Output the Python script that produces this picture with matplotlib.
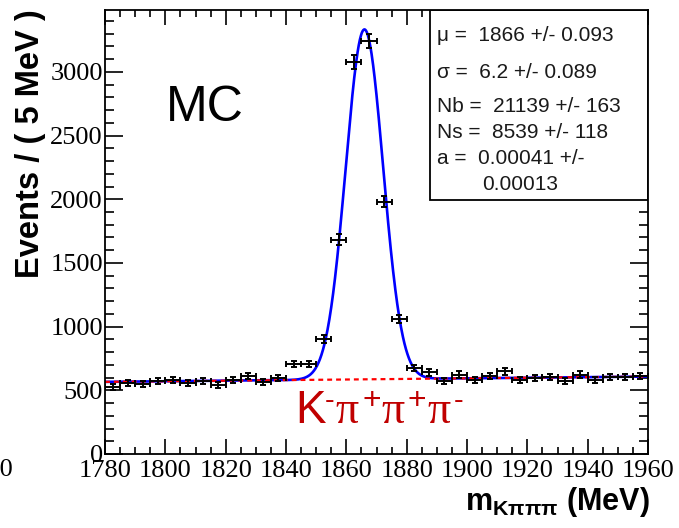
import numpy as np
import matplotlib
matplotlib.use('Agg')
import matplotlib.pyplot as plt
from matplotlib.ticker import MultipleLocator
from matplotlib.patches import Rectangle

plt.rcParams['mathtext.fontset'] = 'custom'
plt.rcParams['mathtext.rm'] = 'Liberation Sans'
plt.rcParams['mathtext.it'] = 'Liberation Sans:italic'
plt.rcParams['mathtext.bf'] = 'Liberation Sans:bold'

# ---- data (5 MeV bins) ----
bin_centers = [1782.5, 1787.5, 1792.5, 1797.5, 1802.5, 1807.5, 1812.5, 1817.5, 1822.5,
               1827.5, 1832.5, 1837.5, 1842.5, 1847.5, 1852.5, 1857.5, 1862.5, 1867.5,
               1872.5, 1877.5, 1882.5, 1887.5, 1892.5, 1897.5, 1902.5, 1907.5, 1912.5,
               1917.5, 1922.5, 1927.5, 1932.5, 1937.5, 1942.5, 1947.5, 1952.5, 1957.5]
counts = [525, 560, 552, 576, 578, 558, 576, 544, 578,
          615, 562, 599, 707, 707, 903, 1683, 3076, 3241,
          1982, 1060, 676, 641, 570, 623, 584, 615, 649,
          584, 597, 602, 570, 623, 584, 605, 605, 615]
bin_width = 5.0

# ---- fit parameters ----
mu = 1866.0
sigma = 6.2
n_bkg = 21139.0
n_sig = 8539.0
slope_a = 0.00041
x_min, x_max = 1780.0, 1960.0

stats_lines = ["\u03bc =  1866 +/- 0.093",
               "\u03c3 =  6.2 +/- 0.089",
               "Nb =  21139 +/- 163",
               "Ns =  8539 +/- 118",
               "a =  0.00041 +/-",
               "0.00013"]

W, H = 679, 528
fig = plt.figure(figsize=(W / 100, H / 100), dpi=100)
ax = fig.add_axes([105 / W, 1 - 454 / H, 543 / W, 444.5 / H])

xs = np.linspace(x_min, x_max, 1441)
norm_b = (x_max - x_min) + slope_a * (x_max - x_min) ** 2 / 2
bkg = n_bkg * bin_width * (1 + slope_a * (xs - x_min)) / norm_b
sig = n_sig * bin_width * np.exp(-0.5 * ((xs - mu) / sigma) ** 2) / (np.sqrt(2 * np.pi) * sigma)

ax.plot(xs, bkg + sig, color='#0000ff', lw=1.9, zorder=2, solid_capstyle='butt')
ax.plot(xs, bkg, color='#ff0000', lw=1.6, ls=(0, (2.2, 1.8)), zorder=2.1)

yerr = np.sqrt(np.array(counts, dtype=float))
ax.errorbar(bin_centers, counts, xerr=bin_width / 2, yerr=yerr, fmt='none',
            ecolor='black', elinewidth=1.4, capsize=2.5, capthick=1.4, zorder=2.2)

ax.set_xlim(x_min, x_max)
ax.set_ylim(0, 3490)

ax.xaxis.set_major_locator(MultipleLocator(20))
ax.xaxis.set_minor_locator(MultipleLocator(5))
ax.yaxis.set_major_locator(MultipleLocator(500))
ax.yaxis.set_minor_locator(MultipleLocator(100))

for s in ax.spines.values():
    s.set_linewidth(1.3)
ax.tick_params(axis='both', which='both', direction='in', top=True, right=True,
               width=1.2, labelsize=19)
ax.tick_params(axis='x', which='major', length=10.6, pad=4)
ax.tick_params(axis='x', which='minor', length=5.3)
ax.tick_params(axis='y', which='major', length=13, pad=1.5)
ax.tick_params(axis='y', which='minor', length=6.5)
for lab in ax.get_xticklabels() + ax.get_yticklabels():
    lab.set_fontfamily('Liberation Serif')

# stats box
x0 = (430 - 105) / 543
y0 = (454 - 200) / 444.5
ax.add_patch(Rectangle((x0, y0), 1 - x0, 1 - y0, transform=ax.transAxes,
                       facecolor='white', edgecolor='black', lw=1.3, zorder=2.4))

def ftxt(xp, yp, s, **kw):
    return fig.text(xp / W, 1 - yp / H, s, **kw)

ys = [36, 73, 107, 133, 159, 185]
xsp = [437, 437, 437, 437, 437, 482]
for line, yp, xp in zip(stats_lines, ys, xsp):
    ftxt(xp, yp, line, family='Liberation Sans', fontsize=15, va='center', ha='left',
         color='#1a1a1a', zorder=5)

ftxt(166, 121, 'MC', family='Liberation Sans', fontsize=36, va='baseline', ha='left')

# decay channel label  K- pi+ pi+ pi-
red = '#c00000'
ftxt(295, 423, 'K', family='Liberation Sans', fontsize=33, color=red, va='baseline', ha='left')
for xc, s in [(330, '-'), (372, '+'), (417, '+'), (459, '-')]:
    ftxt(xc, 401, s, family='Liberation Sans', fontsize=23 if s == '+' else 21,
         color=red, va='center', ha='center')
for xl in [335, 381, 427]:
    ftxt(xl, 423, '\u03c0', family='Liberation Serif', fontsize=33, color=red,
         va='baseline', ha='left')

ftxt(31, 144, 'Events / ( 5 MeV )', family='Liberation Sans', weight='bold',
     fontsize=23.5, rotation=90, va='center', ha='center')
ftxt(650, 510, r'$\mathbf{m}_{\mathbf{K\pi\pi\pi}}$ (MeV)', family='Liberation Sans',
     weight='bold', fontsize=22, va='baseline', ha='right')

# cut-off label from neighbouring panel at left edge
ftxt(13, 470, '1960', family='Liberation Serif', fontsize=19, va='center', ha='right')

fig.savefig('out.png', dpi=100)
